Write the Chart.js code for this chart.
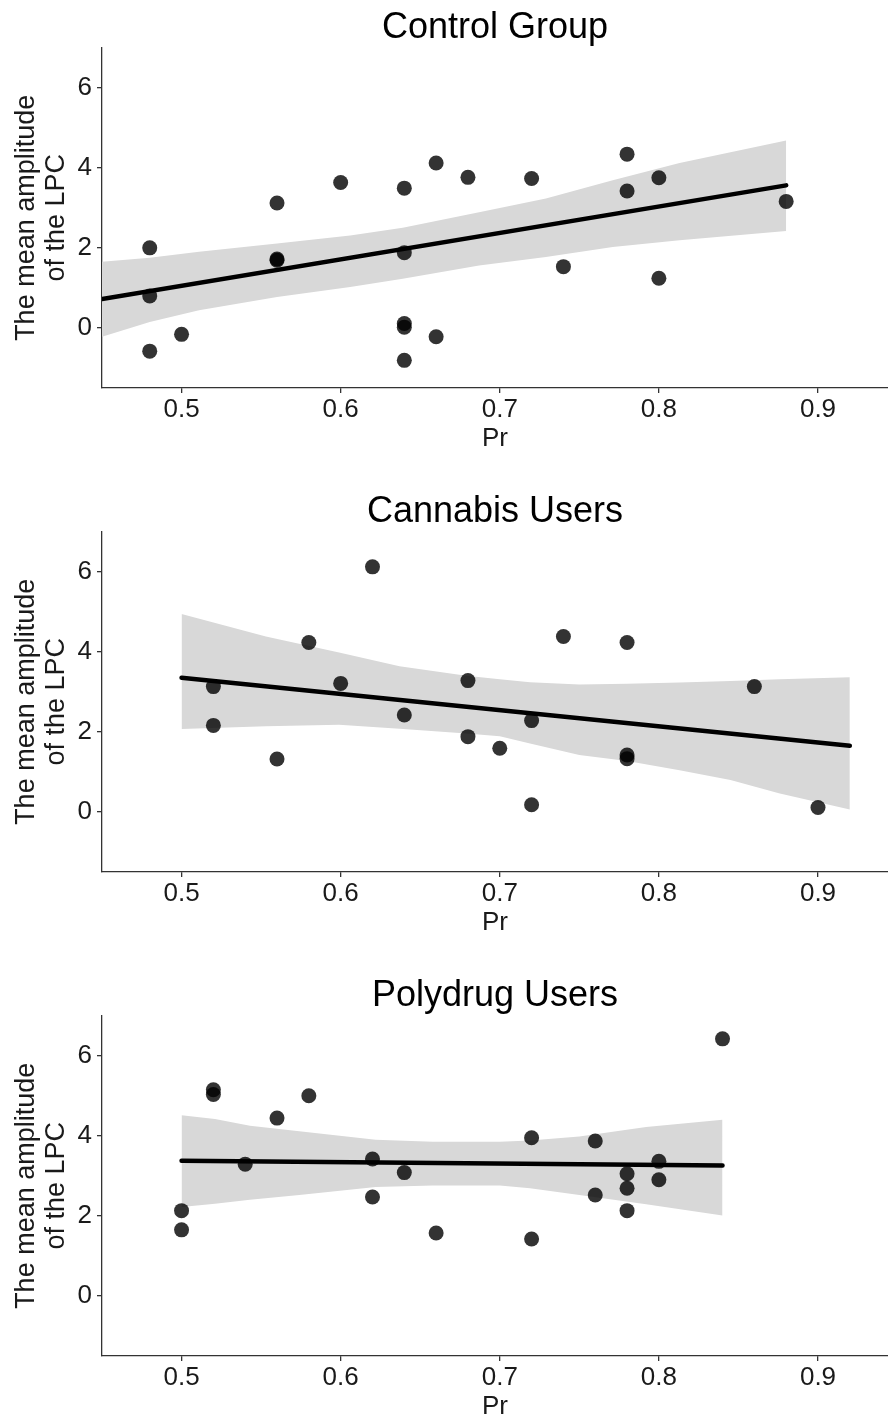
<!DOCTYPE html>
<html>
<head>
<meta charset="utf-8">
<script src="https://cdn.jsdelivr.net/npm/chart.js@4.4.1/dist/chart.umd.min.js"></script>
<style>
  html, body { margin: 0; padding: 0; background: #fff; overflow: hidden; width: 888px; height: 1419px; }
  .panel { position: absolute; left: 0; width: 888px; height: 484px; }
  canvas { display: block; }
</style>
</head>
<body>
<div class="panel" style="top:0px"><canvas id="panel0" width="888" height="484"></canvas></div>
<div class="panel" style="top:484px"><canvas id="panel1" width="888" height="484"></canvas></div>
<div class="panel" style="top:968px"><canvas id="panel2" width="888" height="484"></canvas></div>
<script>
// Axis ticks shared by all three panels
const xTicks = [0.5, 0.6, 0.7, 0.8, 0.9];
const xTickLabels = ['0.5', '0.6', '0.7', '0.8', '0.9'];
const yTicks = [0, 2, 4, 6];
const yTickLabels = ['0', '2', '4', '6'];
const xAxisTitle = 'Pr';
const yAxisTitle = ['The mean amplitude', 'of the LPC'];
const panelTitles = ['Control Group', 'Cannabis Users', 'Polydrug Users'];

// Control group: discrimination index (Pr) vs. LPC amplitude
const controlPr  = [0.48, 0.48, 0.48, 0.50, 0.56, 0.56, 0.56, 0.60, 0.64, 0.64, 0.64, 0.64, 0.64, 0.66, 0.66, 0.68, 0.72, 0.74, 0.78, 0.78, 0.80, 0.80, 0.88];
const controlLPC = [2.00, 0.80, -0.58, -0.16, 3.12, 1.72, 1.69, 3.63, 3.49, 1.88, 0.11, 0.02, -0.81, 4.12, -0.22, 3.76, 3.73, 1.53, 4.34, 3.42, 3.75, 1.24, 3.16];
const controlFitPr  = [0.45, 0.88];
const controlFitLPC = [0.72, 3.56];
const controlBandPr   = [0.45, 0.48, 0.511, 0.56, 0.606, 0.639, 0.687, 0.729, 0.771, 0.813, 0.88];
const controlBandLow  = [-0.22, 0.15, 0.44, 0.77, 1.02, 1.23, 1.56, 1.77, 2.02, 2.19, 2.42];
const controlBandHigh = [1.65, 1.75, 1.90, 2.11, 2.31, 2.50, 2.89, 3.23, 3.69, 4.12, 4.68];

// Cannabis users
const cannabisPr  = [0.52, 0.52, 0.56, 0.58, 0.60, 0.62, 0.64, 0.68, 0.68, 0.70, 0.72, 0.72, 0.74, 0.78, 0.78, 0.78, 0.86, 0.90];
const cannabisLPC = [3.13, 2.16, 1.32, 4.23, 3.21, 6.12, 2.42, 3.28, 1.88, 1.59, 2.28, 0.18, 4.38, 4.23, 1.42, 1.33, 3.13, 0.11];
const cannabisFitPr  = [0.50, 0.92];
const cannabisFitLPC = [3.35, 1.65];
const cannabisBandPr   = [0.50, 0.553, 0.599, 0.637, 0.679, 0.70, 0.719, 0.75, 0.78, 0.813, 0.845, 0.876, 0.92];
const cannabisBandLow  = [2.07, 2.14, 2.18, 2.08, 1.96, 1.89, 1.71, 1.42, 1.27, 1.04, 0.80, 0.46, 0.06];
const cannabisBandHigh = [4.94, 4.38, 3.98, 3.64, 3.40, 3.31, 3.24, 3.18, 3.20, 3.23, 3.27, 3.31, 3.36];

// Polydrug users
const polydrugPr  = [0.50, 0.50, 0.52, 0.52, 0.54, 0.56, 0.58, 0.62, 0.62, 0.64, 0.66, 0.72, 0.72, 0.76, 0.76, 0.78, 0.78, 0.78, 0.80, 0.80, 0.84];
const polydrugLPC = [2.13, 1.65, 5.15, 5.03, 3.29, 4.44, 5.00, 3.42, 2.47, 3.08, 1.57, 3.95, 1.42, 3.87, 2.52, 3.05, 2.69, 2.13, 3.36, 2.90, 6.42];
const polydrugFitPr  = [0.50, 0.84];
const polydrugFitLPC = [3.375, 3.26];
const polydrugBandPr   = [0.50, 0.521, 0.543, 0.574, 0.622, 0.658, 0.70, 0.719, 0.75, 0.792, 0.84];
const polydrugBandLow  = [2.22, 2.30, 2.40, 2.52, 2.72, 2.76, 2.76, 2.69, 2.52, 2.29, 2.01];
const polydrugBandHigh = [4.51, 4.42, 4.25, 4.11, 3.90, 3.85, 3.85, 3.88, 3.98, 4.22, 4.40];

const FONT = "'Liberation Sans', Arial, Helvetica, sans-serif";
const AXIS_COLOR = '#333333';
const TEXT_COLOR = '#1a1a1a';

function zipPoints(xs, ys) {
  return xs.map((x, i) => ({ x: x, y: ys[i] }));
}

function drawPanel(canvasId, title, pr, lpc, fitPr, fitLpc, bandPr, bandLow, bandHigh) {
  const ctx = document.getElementById(canvasId).getContext('2d');
  return new Chart(ctx, {
    type: 'scatter',
    data: {
      datasets: [
        { // lower edge of the confidence band
          data: zipPoints(bandPr, bandLow),
          showLine: true, pointRadius: 0, borderWidth: 0,
          borderColor: 'rgba(0,0,0,0)', fill: false, order: 3
        },
        { // upper edge, filled down to the lower edge
          data: zipPoints(bandPr, bandHigh),
          showLine: true, pointRadius: 0, borderWidth: 0,
          borderColor: 'rgba(0,0,0,0)', backgroundColor: '#d8d8d8',
          fill: '-1', order: 2
        },
        { // fitted regression line
          data: zipPoints(fitPr, fitLpc),
          showLine: true, pointRadius: 0, borderColor: '#000000',
          borderWidth: 4.5, borderCapStyle: 'round', fill: false, order: 1
        },
        { // participants
          data: zipPoints(pr, lpc),
          showLine: false, pointRadius: 7.5, pointHoverRadius: 7.5,
          backgroundColor: 'rgba(0,0,0,0.8)', borderWidth: 0,
          borderColor: 'rgba(0,0,0,0)', order: 0
        }
      ]
    },
    options: {
      responsive: false,
      animation: false,
      devicePixelRatio: 1,
      layout: { padding: 0, autoPadding: false },
      events: [],
      plugins: {
        legend: { display: false },
        tooltip: { enabled: false },
        title: {
          display: true,
          text: title,
          fullSize: false,
          color: '#000000',
          font: { family: FONT, size: 36, weight: 'normal', lineHeight: 1.1 },
          padding: { top: 8, bottom: 0 }
        }
      },
      scales: {
        x: {
          type: 'linear',
          min: 0.45,
          max: 0.944,
          afterBuildTicks: (s) => { s.ticks = xTicks.map(v => ({ value: v })); },
          afterFit: (s) => { s.height = 96; },
          grid: { display: true, drawOnChartArea: false, drawTicks: true, tickLength: 5, color: AXIS_COLOR, lineWidth: 1.3 },
          border: { display: true, color: AXIS_COLOR, width: 1.3 },
          ticks: {
            autoSkip: false, maxRotation: 0, padding: 1, color: TEXT_COLOR,
            font: { family: FONT, size: 26 },
            callback: (v) => xTickLabels[xTicks.indexOf(v)]
          },
          title: {
            display: true, text: xAxisTitle, color: TEXT_COLOR,
            font: { family: FONT, size: 26 },
            padding: { top: 0, bottom: 30 }
          }
        },
        y: {
          type: 'linear',
          min: -1.5,
          max: 7,
          afterBuildTicks: (s) => { s.ticks = yTicks.map(v => ({ value: v })); },
          afterFit: (s) => { s.width = 102; },
          grid: { display: true, drawOnChartArea: false, drawTicks: true, tickLength: 5, color: AXIS_COLOR, lineWidth: 1.3 },
          border: { display: true, color: AXIS_COLOR, width: 1.3 },
          ticks: {
            autoSkip: false, padding: 5, color: TEXT_COLOR,
            font: { family: FONT, size: 26 },
            callback: (v) => yTickLabels[yTicks.indexOf(v)]
          },
          title: {
            display: true, text: yAxisTitle, color: TEXT_COLOR,
            font: { family: FONT, size: 27, lineHeight: 1.11 },
            padding: { top: 12, bottom: 0 }
          }
        }
      }
    }
  });
}

function drawAll() {
  drawPanel('panel0', panelTitles[0], controlPr, controlLPC, controlFitPr, controlFitLPC, controlBandPr, controlBandLow, controlBandHigh);
  drawPanel('panel1', panelTitles[1], cannabisPr, cannabisLPC, cannabisFitPr, cannabisFitLPC, cannabisBandPr, cannabisBandLow, cannabisBandHigh);
  drawPanel('panel2', panelTitles[2], polydrugPr, polydrugLPC, polydrugFitPr, polydrugFitLPC, polydrugBandPr, polydrugBandLow, polydrugBandHigh);
}

if (document.fonts && document.fonts.load) {
  Promise.all([
    document.fonts.load("26px 'Liberation Sans'"),
    document.fonts.load("36px 'Liberation Sans'")
  ]).then(drawAll, drawAll);
} else {
  drawAll();
}
</script>
</body>
</html>
